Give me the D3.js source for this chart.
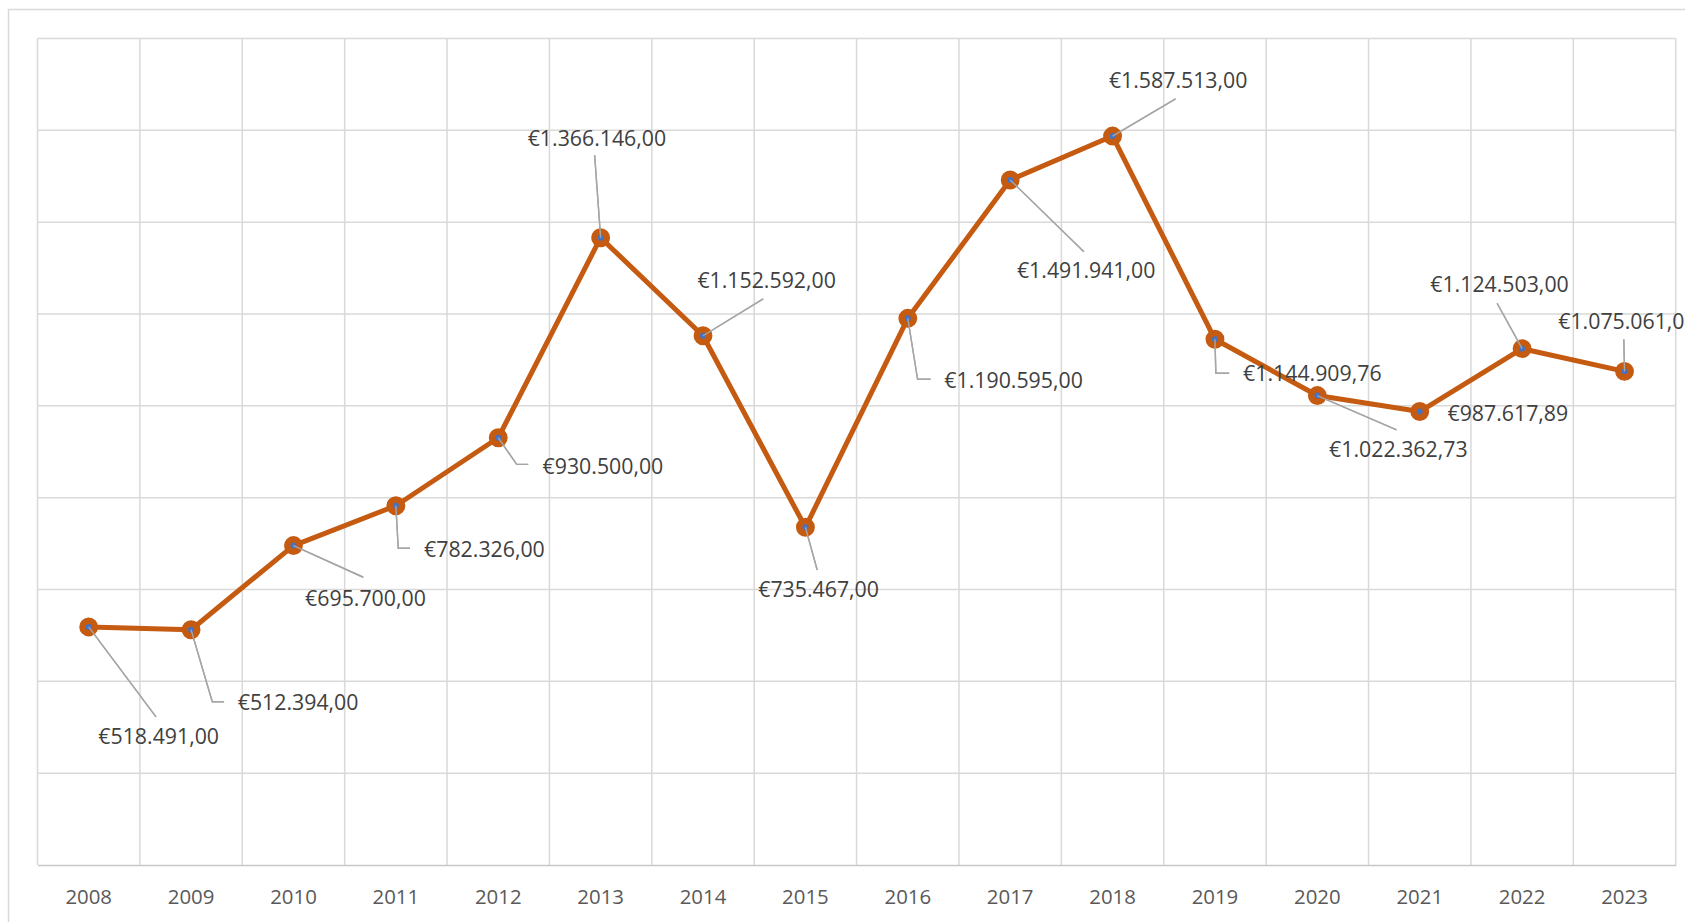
<!DOCTYPE html>
<html>
<head>
<meta charset="utf-8">
<script src="https://cdn.jsdelivr.net/npm/d3@7"></script>
<style>
  html, body { margin: 0; padding: 0; background: #ffffff; overflow: hidden; }
  svg { display: block; }
</style>
</head>
<body>
<svg id="chart" width="1685" height="922"></svg>
<script>
// ---- data ----
const years = ["2008","2009","2010","2011","2012","2013","2014","2015","2016","2017","2018","2019","2020","2021","2022","2023"];
const values = [518491.00, 512394.00, 695700.00, 782326.00, 930500.00, 1366146.00, 1152592.00, 735467.00, 1190595.00, 1491941.00, 1587513.00, 1144909.76, 1022362.73, 987617.89, 1124503.00, 1075061.00];
const yTicks = [0, 200000, 400000, 600000, 800000, 1000000, 1200000, 1400000, 1600000, 1800000];

// ---- label layout (offsets from each point: label centre, leader path) ----
const labelOffsets = [
  {dx: 70,    dy: 110,   leader: [[67.3, 90]]},
  {dx: 107,   dy: 73,    leader: [[21.2, 72], [33, 72]]},
  {dx: 72,    dy: 52.7,  leader: [[69.8, 31.7]]},
  {dx: 88.6,  dy: 44.2,  leader: [[2.4, 42.5], [14.1, 42.5]]},
  {dx: 104.7, dy: 28.3,  leader: [[18.4, 26.6], [30, 26.6]]},
  {dx: -3.7,  dy: -99.4, leader: [[-6, -82.7]]},
  {dx: 63.6,  dy: -54.8, leader: [[60.2, -36.8]]},
  {dx: 13.2,  dy: 62.7,  leader: [[11.8, 42.7]]},
  {dx: 105.8, dy: 61.7,  leader: [[9.8, 61], [22.8, 61]]},
  {dx: 76,    dy: 90.7,  leader: [[73.7, 71.7]]},
  {dx: 65.6,  dy: -55.1, leader: [[63, -37.1]]},
  {dx: 97.4,  dy: 34.7,  leader: [[0.9, 34], [14.2, 34]]},
  {dx: 81,    dy: 54.4,  leader: [[79.2, 34.4]]},
  {dx: 88.1,  dy: 1.8,   leader: []},
  {dx: -22.6, dy: -63.7, leader: [[-25, -45.4]]},
  {dx: 3,     dy: -49.7, leader: [[-0.7, -32.1]]}
];

const data = years.map((y, i) => ({year: y, value: values[i], lab: labelOffsets[i]}));

// ---- formatting (€ with . thousands and , decimals) ----
const euro = d3.formatLocale({decimal: ",", thousands: ".", grouping: [3], currency: ["€", ""]});
const fmt = euro.format("$,.2f");

// ---- geometry ----
const svg = d3.select("#chart");
const plot = {left: 37.5, top: 38.5, right: 1675.7, bottom: 865};

const x = d3.scaleBand().domain(years).range([plot.left, plot.right]).paddingInner(0).paddingOuter(0);
const y = d3.scaleLinear().domain([0, 1800000]).range([plot.bottom, plot.top]);

// outer chart border
svg.append("rect")
  .attr("x", 8.5).attr("y", 9.5)
  .attr("width", 1700).attr("height", 950)
  .attr("fill", "#ffffff")
  .attr("stroke", "#d9d9d9").attr("stroke-width", 1.5);

// horizontal gridlines
svg.append("g").selectAll("line").data(yTicks.filter(d => d > 0)).join("line")
  .attr("x1", plot.left).attr("x2", plot.right)
  .attr("y1", d => y(d)).attr("y2", d => y(d))
  .attr("stroke", "#d9d9d9").attr("stroke-width", 1.5);

// vertical gridlines at category boundaries
const bounds = years.map(d => x(d)).concat([x(years[years.length - 1]) + x.bandwidth()]);
svg.append("g").selectAll("line").data(bounds).join("line")
  .attr("x1", d => d).attr("x2", d => d)
  .attr("y1", plot.top).attr("y2", plot.bottom)
  .attr("stroke", "#d9d9d9").attr("stroke-width", 1.5);

// x axis
const xAxis = d3.axisBottom(x).tickSize(0).tickPadding(0);
const gx = svg.append("g").attr("transform", `translate(0,${plot.bottom})`).call(xAxis);
gx.select(".domain").attr("stroke", "#c8c8c8").attr("stroke-width", 1.5);
gx.selectAll("text")
  .attr("y", 31.7 + 7.3)
  .attr("dy", null)
  .attr("fill", "#595959")
  .style("font-family", "'Open Sans', sans-serif")
  .style("font-size", "20.4px");

// line
const line = d3.line().x(d => x(d.year) + x.bandwidth() / 2).y(d => y(d.value));
svg.append("path").datum(data)
  .attr("d", line)
  .attr("fill", "none")
  .attr("stroke", "#C55A11")
  .attr("stroke-width", 5)
  .attr("stroke-linejoin", "round");

// leader lines
const cx = d => x(d.year) + x.bandwidth() / 2;
const cy = d => y(d.value);
svg.append("g").selectAll("path").data(data.filter(d => d.lab.leader.length)).join("path")
  .attr("d", d => {
    const px = cx(d), py = cy(d);
    return "M" + px + "," + py + d.lab.leader.map(p => "L" + (px + p[0]) + "," + (py + p[1])).join("");
  })
  .attr("fill", "none")
  .attr("stroke", "#a6a6a6")
  .attr("stroke-width", 1.4);

// markers
svg.append("g").selectAll("circle").data(data).join("circle")
  .attr("cx", cx).attr("cy", cy)
  .attr("r", 6.2)
  .attr("fill", "#4472C4")
  .attr("stroke", "#C55A11")
  .attr("stroke-width", 6.5);

// re-draw leader start over marker (leaders appear on top of markers)
svg.append("g").selectAll("path").data(data.filter(d => d.lab.leader.length)).join("path")
  .attr("d", d => {
    const px = cx(d), py = cy(d);
    return "M" + px + "," + py + d.lab.leader.map(p => "L" + (px + p[0]) + "," + (py + p[1])).join("");
  })
  .attr("fill", "none")
  .attr("stroke", "#a6a6a6")
  .attr("stroke-width", 1.4);

// data labels
svg.append("g").selectAll("text").data(data).join("text")
  .attr("x", d => cx(d) + d.lab.dx)
  .attr("y", d => cy(d) + d.lab.dy + 7.5)
  .attr("text-anchor", "middle")
  .attr("fill", "#404040")
  .style("font-family", "'Open Sans', sans-serif")
  .style("font-size", "21.3px")
  .text(d => fmt(d.value));
</script>
</body>
</html>
